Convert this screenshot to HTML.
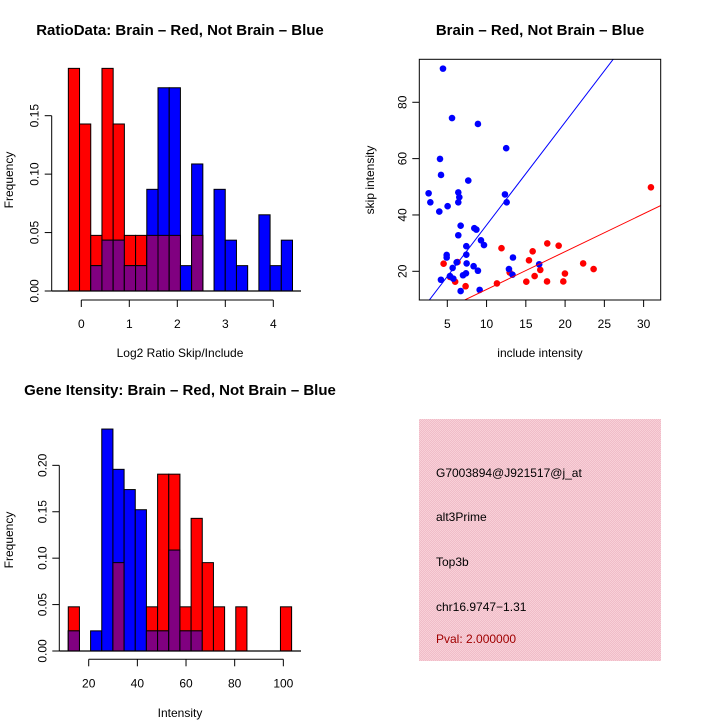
<!DOCTYPE html>
<html><head><meta charset="utf-8"><style>
html,body{margin:0;padding:0;background:#fff;}
svg{display:block;font-family:"Liberation Sans",Arial,sans-serif;}
</style></head><body>
<svg id="s" width="720" height="720" viewBox="0 0 720 720" xmlns="http://www.w3.org/2000/svg">
<rect width="720" height="720" fill="#fff"/>
<defs>
<pattern id="pk" width="2" height="2" patternUnits="userSpaceOnUse"><rect width="2" height="2" fill="#f0bcc8"/><rect width="1" height="1" fill="#f8d0d8"/><rect x="1" y="1" width="1" height="1" fill="#f8d0d8"/></pattern>
</defs>
<text x="180" y="35" text-anchor="middle" font-size="15" font-weight="bold">RatioData: Brain – Red, Not Brain – Blue</text>
<text x="540" y="35" text-anchor="middle" font-size="15" font-weight="bold">Brain – Red, Not Brain – Blue</text>
<text x="180" y="395" text-anchor="middle" font-size="15" font-weight="bold">Gene Itensity: Brain – Red, Not Brain – Blue</text>
<text x="180" y="357" text-anchor="middle" font-size="12">Log2 Ratio Skip/Include</text>
<text x="180" y="717" text-anchor="middle" font-size="12">Intensity</text>
<text x="540" y="357" text-anchor="middle" font-size="12">include intensity</text>
<text transform="translate(13,180) rotate(-90)" text-anchor="middle" font-size="12">Frequency</text>
<text transform="translate(13,540) rotate(-90)" text-anchor="middle" font-size="12">Frequency</text>
<text transform="translate(374,180) rotate(-90)" text-anchor="middle" font-size="12">skip intensity</text>
<g>
<rect x="419" y="419" width="242" height="242" fill="url(#pk)"/>
<text x="436" y="477" font-size="12">G7003894@J921517@j_at</text>
<text x="436" y="521" font-size="12">alt3Prime</text>
<text x="436" y="566" font-size="12">Top3b</text>
<text x="436" y="611" font-size="12">chr16.9747−1.31</text>
<text x="436" y="643" font-size="12" fill="#a00000">Pval: 2.000000</text>
</g>
<g id="g1"></g><g id="g2"></g><g id="g3"></g>
</svg>
<script>
// Ratio histogram data
const ratioBreakStart = -0.27, ratioBinWidth = 0.2335;
const ratioRed = [0.1905,0.1429,0.0476,0.1905,0.1429,0.0476,0.0476,0.0476,0.0476,0.0476,0,0.0476,0,0,0,0,0,0,0,0];
const ratioBlue = [0,0,0.0217,0.0435,0.0435,0.0217,0.0217,0.087,0.1739,0.1739,0.0217,0.1087,0,0.087,0.0435,0.0217,0,0.0652,0.0217,0.0435];
const ratioXTicks = [0,1,2,3,4];
const ratioYTicks = [0,0.05,0.10,0.15];
const ratioYLabels = ["0.00","0.05","0.10","0.15"];
// Intensity histogram data
const intBreakStart = 11.6, intBinWidth = 4.59;
const intRed = [0.0476,0,0,0,0.0952,0,0,0.0476,0.1905,0.1905,0.0476,0.1429,0.0952,0.0476,0,0.0476,0,0,0,0.0476];
const intBlue = [0.0217,0,0.0217,0.2391,0.1957,0.1739,0.1522,0.0217,0.0217,0.1087,0.0217,0.0217,0,0,0,0,0,0,0,0];
const intXTicks = [20,40,60,80,100];
const intYTicks = [0,0.05,0.10,0.15,0.20];
const intYLabels = ["0.00","0.05","0.10","0.15","0.20"];
// Scatter data
const blueX = [4.45,5.6,8.9,12.5,4.07,4.2,7.67,2.62,2.84,6.4,6.53,6.4,3.98,5.04,12.34,12.56,6.7,6.4,8.44,8.7,9.29,9.67,7.42,7.42,4.92,4.92,6.19,7.46,13.36,5.68,8.35,8.9,12.85,16.7,13.3,4.19,5.34,5.76,7.0,7.38,6.7,9.12];
const blueY = [91.95,74.4,72.3,63.7,59.9,54.2,52.2,47.7,44.5,48.0,46.3,44.5,41.2,43.1,47.3,44.5,36.2,32.8,35.3,34.8,31.0,29.3,28.9,25.9,25.8,24.9,23.2,22.8,24.9,21.2,21.8,20.2,20.8,22.5,18.8,17.0,18.3,17.4,18.6,19.3,13.0,13.4];
const redX = [4.53,6.3,6.0,7.33,5.34,11.32,11.9,12.94,15.06,15.4,15.87,16.12,16.84,17.73,17.7,19.18,19.77,19.98,22.3,23.63,30.93];
const redY = [22.7,23.3,16.3,14.7,18.0,15.7,28.2,19.6,16.3,23.9,27.1,18.3,20.5,29.9,16.4,29.1,16.4,19.2,22.8,20.8,49.8];
const blueSlope = 3.65, blueIntercept = -0.09;
const redSlope = 1.342, redIntercept = 0.14;
const scXTicks = [5,10,15,20,25,30];
const scYTicks = [20,40,60,80];

const NS = "http://www.w3.org/2000/svg";
function mk(parent, tag, attrs){const e=document.createElementNS(NS,tag);for(const k in attrs)e.setAttribute(k,attrs[k]);parent.appendChild(e);return e;}

function hist(g, cfg){
  const xs=v=>cfg.x0px+(v-cfg.x0)*cfg.xk;
  const ys=v=>cfg.base-v*cfg.yk;
  for(let i=0;i<cfg.red.length;i++){
    const a=cfg.start+i*cfg.w, b=a+cfg.w;
    const x1=xs(a), x2=xs(b);
    const r=cfg.red[i], bl=cfg.blue[i];
    if(r>0){const e=mk(g,"rect",{x:x1,y:ys(r),width:x2-x1,height:cfg.base-ys(r),fill:"#ff0000",stroke:"#000","stroke-width":1});
      
      }
    if(bl>0){const e=mk(g,"rect",{x:x1,y:ys(bl),width:x2-x1,height:cfg.base-ys(bl),fill:"#0000ff",stroke:"#000","stroke-width":1});
      
      }
    const m=Math.min(r,bl);
    if(m>0){const e=mk(g,"rect",{x:x1,y:ys(m),width:x2-x1,height:cfg.base-ys(m),fill:"#800080",stroke:"#000","stroke-width":1});
      
      }
  }
  mk(g,"line",{x1:cfg.yaxX,x2:301,y1:cfg.base,y2:cfg.base,stroke:"#000","stroke-width":1.3});
  const ya=mk(g,"line",{x1:cfg.yaxX,x2:cfg.yaxX,y1:ys(cfg.yt[0]),y2:ys(cfg.yt[cfg.yt.length-1]),stroke:"#000"});
  
  
  cfg.yt.forEach((v,i)=>{
    mk(g,"line",{x1:cfg.yaxX-7,x2:cfg.yaxX,y1:ys(v),y2:ys(v),stroke:"#000"});
    const t=mk(g,"text",{transform:`translate(${cfg.yaxX-13},${ys(v)}) rotate(-90)`,"text-anchor":"middle","font-size":12});
    t.textContent=cfg.yl[i];
    
    
  });
  const xa=mk(g,"line",{x1:xs(cfg.xt[0]),x2:xs(cfg.xt[cfg.xt.length-1]),y1:cfg.xaxY,y2:cfg.xaxY,stroke:"#000"});
  
  
  cfg.xt.forEach(v=>{
    mk(g,"line",{x1:xs(v),x2:xs(v),y1:cfg.xaxY,y2:cfg.xaxY+7,stroke:"#000"});
    const t=mk(g,"text",{x:xs(v),y:cfg.xaxY+28,"text-anchor":"middle","font-size":12});
    t.textContent=v;
    
    
  });
}
hist(document.getElementById("g1"),{x0:0,x0px:81.3,xk:48,base:291,yk:1168.7,start:ratioBreakStart,w:ratioBinWidth,red:ratioRed,blue:ratioBlue,xt:ratioXTicks,yt:ratioYTicks,yl:ratioYLabels,yaxX:51.7,xaxY:300});
hist(document.getElementById("g2"),{x0:20,x0px:88.7,xk:2.433,base:651,yk:928.3,start:intBreakStart,w:intBinWidth,red:intRed,blue:intBlue,xt:intXTicks,yt:intYTicks,yl:intYLabels,yaxX:59.3,xaxY:659.3});

(function(){
  const g=document.getElementById("g3");
  const L=419.3,R=660.7,T=59.3,B=300;
  const sx=v=>447.3+(v-5)*7.853;
  const sy=v=>271.3-(v-20)*2.817;
  const cp=mk(g,"clipPath",{id:"cp"});
  mk(cp,"rect",{x:L,y:T,width:R-L,height:B-T});
  const pts=mk(g,"g",{"clip-path":"url(#cp)"});
  for(let i=0;i<redX.length;i++){
    const c=mk(pts,"circle",{cx:sx(redX[i]),cy:sy(redY[i]),r:3.3,fill:"#ff0000"});
    
    
  }
  for(let i=0;i<blueX.length;i++){
    const c=mk(pts,"circle",{cx:sx(blueX[i]),cy:sy(blueY[i]),r:3.3,fill:"#0000ff"});
    
    
  }
  const xa=0,xb=40;
  const bl=mk(pts,"line",{x1:sx(xa),y1:sy(blueIntercept+blueSlope*xa),x2:sx(xb),y2:sy(blueIntercept+blueSlope*xb),stroke:"#0000ff","stroke-width":1});
  
  
  const rl=mk(pts,"line",{x1:sx(xa),y1:sy(redIntercept+redSlope*xa),x2:sx(xb),y2:sy(redIntercept+redSlope*xb),stroke:"#ff0000","stroke-width":1});
  
  
  const box=mk(g,"rect",{x:L,y:T,width:R-L,height:B-T,fill:"none",stroke:"#000"});
  
  
  scXTicks.forEach(v=>{
    mk(g,"line",{x1:sx(v),x2:sx(v),y1:B,y2:B+7,stroke:"#000"});
    const t=mk(g,"text",{x:sx(v),y:B+28,"text-anchor":"middle","font-size":12});
    t.textContent=v;
    
    
  });
  scYTicks.forEach(v=>{
    mk(g,"line",{x1:L-7,x2:L,y1:sy(v),y2:sy(v),stroke:"#000"});
    const t=mk(g,"text",{transform:`translate(${L-13},${sy(v)}) rotate(-90)`,"text-anchor":"middle","font-size":12});
    t.textContent=v;
    
    
  });
})();
</script>
</body></html>
